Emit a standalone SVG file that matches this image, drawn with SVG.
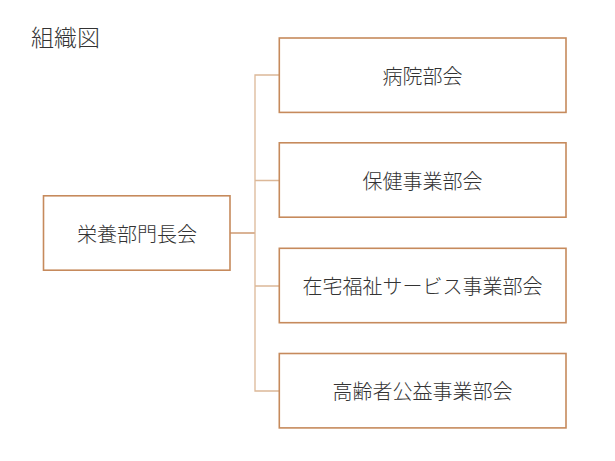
<svg xmlns="http://www.w3.org/2000/svg" width="615" height="461" viewBox="0 0 615 461">
<style>
.box{fill:#ffffff;stroke:#c68a5c;stroke-width:1.6}
.lbl{font-family:"Noto Sans CJK JP","Noto Sans CJK SC",sans-serif;font-weight:300;font-size:20px;fill:#333333;text-anchor:middle;dominant-baseline:central}
.title{font-family:"Noto Sans CJK JP","Noto Sans CJK SC",sans-serif;font-weight:300;font-size:23px;fill:#333333}
.main{stroke:#c68a5c;stroke-width:1.3;fill:none}
.branch{stroke:#dcb898;stroke-width:1.3;fill:none}
</style>
<rect width="615" height="461" fill="#ffffff"/>
<text class="title" x="31" y="36" dominant-baseline="central">組織図</text>
<g id="connectors">
<line class="main" x1="230" y1="233" x2="255" y2="233"/>
<path class="branch" d="M279 75 H255 V391 H279 M255 180.5 H279 M255 286 H279"/>
</g>
<g id="n0"><rect class="box" x="43.5" y="195.8" width="186.5" height="74.4"/><text class="lbl" x="137" y="233">栄養部門長会</text></g>
<g id="n1"><rect class="box" x="279.3" y="38" width="286.7" height="74.4"/><text class="lbl" x="422.5" y="75.3">病院部会</text></g>
<g id="n2"><rect class="box" x="279.3" y="142.8" width="286.7" height="74.4"/><text class="lbl" x="422.5" y="180">保健事業部会</text></g>
<g id="n3"><rect class="box" x="279.3" y="248.3" width="286.7" height="74.4"/><text class="lbl" x="422.5" y="285.5">在宅福祉サービス事業部会</text></g>
<g id="n4"><rect class="box" x="279.3" y="353.5" width="286.7" height="74.4"/><text class="lbl" x="422.5" y="390.7">高齢者公益事業部会</text></g>
</svg>
